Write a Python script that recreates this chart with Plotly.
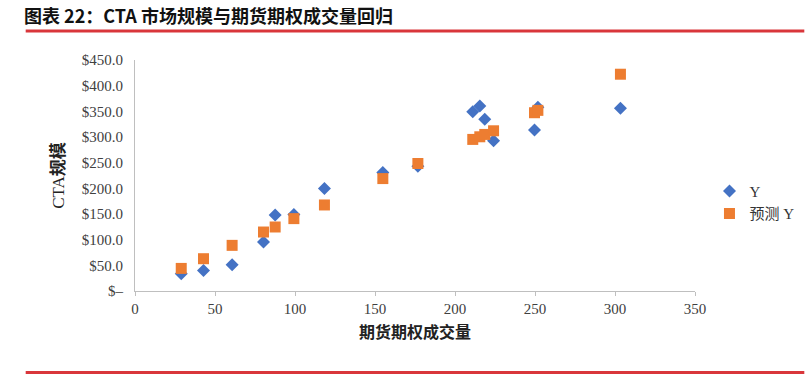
import plotly.graph_objects as go

volume = [28.9, 42.8, 60.7, 80.3, 87.6, 99.3, 118.4, 154.9, 176.8, 211.1,
          215.5, 218.6, 224.1, 249.7, 251.8, 303.4]
cta_y = [33.6, 40.0, 51.1, 95.3, 148.0, 148.8, 199.6, 230.8, 243.2, 349.3,
         360.4, 334.4, 292.6, 313.5, 357.8, 355.8]
pred_y = [44.0, 62.9, 88.9, 114.9, 124.7, 141.0, 167.6, 219.0, 248.4, 295.3,
          300.4, 305.0, 312.1, 347.3, 351.9, 422.3]

y_ticks = [0, 50, 100, 150, 200, 250, 300, 350, 400, 450]
y_tick_text = ["$–", "$50.0", "$100.0", "$150.0", "$200.0", "$250.0",
               "$300.0", "$350.0", "$400.0", "$450.0"]
x_ticks = [0, 50, 100, 150, 200, 250, 300, 350]

SERIF = "Liberation Serif, Noto Sans CJK SC, serif"
CJK = "Noto Sans CJK SC, sans-serif"

fig = go.Figure()
fig.add_trace(go.Scatter(
    x=volume, y=cta_y, mode="markers", name="Y",
    marker=dict(symbol="diamond", size=10, color="#4472C4"),
))
fig.add_trace(go.Scatter(
    x=volume, y=pred_y, mode="markers", name="预测 Y",
    marker=dict(symbol="square", size=11, color="#ED7D31"),
))

W, H = 805, 377
L, R, T, B = 134.5, 805 - 695.5, 60, 377 - 290.7
pw, ph = W - L - R, H - T - B


def px(x):
    return (x - L) / pw


def py(y):
    return (H - B - y) / ph


fig.update_layout(
    width=W, height=H,
    margin=dict(l=L, r=R, t=T, b=B, pad=0, autoexpand=False),
    paper_bgcolor="white", plot_bgcolor="white",
    font=dict(family=SERIF, size=15, color="#333333"),
    showlegend=True,
    legend=dict(
        x=px(710), y=py(202), xanchor="left", yanchor="middle",
        font=dict(family=SERIF, size=15, color="#333333"),
        itemwidth=30, tracegroupgap=2, bgcolor="rgba(0,0,0,0)",
    ),
    xaxis=dict(
        range=[0, 350], tickvals=x_ticks, showgrid=False, zeroline=False,
        showline=True, linecolor="#BFBFBF", linewidth=1, automargin=False,
        ticks="outside", ticklen=4, tickcolor="#BFBFBF",
        tickfont=dict(family=SERIF, size=15, color="#404040"),
        title=dict(text="<b>期货期权成交量</b>", standoff=10,
                   font=dict(family=CJK, size=16, color="#222222")),
    ),
    yaxis=dict(
        range=[0, 450], tickvals=y_ticks, ticktext=y_tick_text,
        showgrid=False, zeroline=False, automargin=False,
        showline=True, linecolor="#BFBFBF", linewidth=1, ticks="",
        ticklabelstandoff=8,
        tickfont=dict(family=SERIF, size=15, color="#404040"),
        title=dict(text="CTA<b>规模</b>", standoff=12,
                   font=dict(family=SERIF, size=17, color="#222222")),
    ),
    shapes=[
        dict(type="line", xref="paper", yref="paper",
             x0=px(25), x1=px(805), y0=py(31), y1=py(31),
             line=dict(color="#D9363B", width=3)),
        dict(type="line", xref="paper", yref="paper",
             x0=px(25), x1=px(805), y0=py(372), y1=py(372),
             line=dict(color="#D9363B", width=3)),
    ],
    annotations=[
        dict(text="<b>图表 22：CTA 市场规模与期货期权成交量回归</b>",
             xref="paper", yref="paper", x=px(21), y=py(15),
             xanchor="left", yanchor="middle", showarrow=False,
             font=dict(family=CJK, size=18, color="#111111")),
    ],
)

fig.write_html("out.html",
               config={"displayModeBar": False},
               post_script="document.body.style.margin='0';"
                           "document.body.style.overflow='hidden';")
